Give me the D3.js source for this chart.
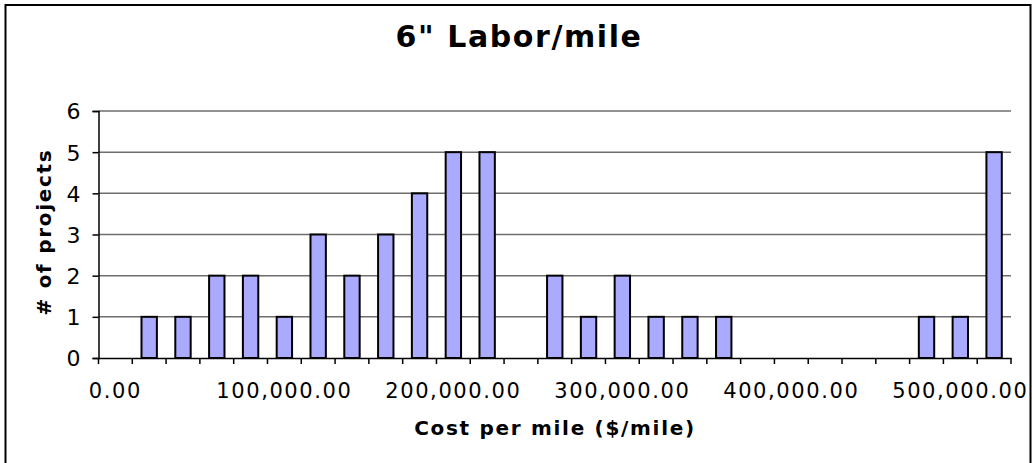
<!DOCTYPE html>
<html>
<head>
<meta charset="utf-8">
<script src="https://cdn.jsdelivr.net/npm/d3@7"></script>
<style>
  body { margin: 0; background: #fff; }
  text { font-family: "DejaVu Sans", Verdana, sans-serif; fill: #000; }
</style>
</head>
<body>
<script>
var width = 1032, height = 463;

// bins (lower edge of each $/mile bin) and counts
var bins = [0, 20000, 40000, 60000, 80000, 100000, 120000, 140000, 160000,
            180000, 200000, 220000, 240000, 260000, 280000, 300000, 320000,
            340000, 360000, 380000, 400000, 420000, 440000, 460000, 480000,
            500000, 520000];
var counts = [0, 1, 1, 2, 2, 1, 3, 2, 3, 4, 5, 5, 0, 2, 1, 2, 1, 1, 1,
              0, 0, 0, 0, 0, 1, 1, 5];
var yTicks = [0, 1, 2, 3, 4, 5, 6];
var labelEvery = 5;

var plot = {left: 98.5, right: 1011, top: 111, bottom: 358};

var svg = d3.select("body")
            .append("svg")
            .attr("width", width)
            .attr("height", height);

// chart border
svg.append("rect")
   .attr("x", 5.5).attr("y", 5)
   .attr("width", 1025).attr("height", 480)
   .attr("fill", "#fff")
   .attr("stroke", "#000")
   .attr("stroke-width", 2);

var xCat = d3.scaleBand()
             .domain(bins)
             .range([plot.left, plot.right]);

var xBar = d3.scaleBand()
             .domain(bins)
             .range([plot.left, plot.right])
             .paddingInner(0.545)
             .paddingOuter(0.2725);

var y = d3.scaleLinear()
          .domain([0, 6])
          .range([plot.bottom, plot.top]);

// gridlines
svg.append("g")
   .selectAll("line")
   .data(yTicks.slice(1))
   .enter()
   .append("line")
   .attr("x1", plot.left).attr("x2", plot.right)
   .attr("y1", d => y(d)).attr("y2", d => y(d))
   .attr("stroke", "#6e6e6e")
   .attr("stroke-width", 1.5);

// y axis
var yAxis = svg.append("g")
               .attr("transform", "translate(" + plot.left + ",0)")
               .call(d3.axisLeft(y)
                       .tickValues(yTicks)
                       .tickFormat(d3.format("d"))
                       .tickSize(6)
                       .tickPadding(12));
yAxis.select(".domain").attr("stroke", "#000").attr("stroke-width", 1.5);
yAxis.selectAll(".tick line").attr("stroke", "#000").attr("stroke-width", 1.5);
yAxis.selectAll("text")
     .attr("font-size", 22)
     .attr("font-family", "DejaVu Sans, sans-serif")
     .attr("fill", "#000")
     .attr("dy", "0.36em");

// bars
svg.append("g")
   .selectAll("rect")
   .data(counts.map((c, i) => ({bin: bins[i], n: c})).filter(d => d.n > 0))
   .enter()
   .append("rect")
   .attr("x", d => xBar(d.bin))
   .attr("y", d => y(d.n))
   .attr("width", xBar.bandwidth())
   .attr("height", d => y(0) - y(d.n))
   .attr("fill", "#aaaaff")
   .attr("stroke", "#000")
   .attr("stroke-width", 2);

// x axis
var fmt = d3.format(",.2f");
var xAxis = svg.append("g")
               .attr("transform", "translate(0," + plot.bottom + ")")
               .call(d3.axisBottom(xCat)
                       .tickSize(0)
                       .tickPadding(25)
                       .tickFormat((d, i) => i % labelEvery == 0 ? fmt(d) : ""));
xAxis.select(".domain").attr("stroke", "#000").attr("stroke-width", 1.5);
xAxis.selectAll("text")
     .attr("font-size", 21)
     .attr("letter-spacing", 1.6)
     .attr("font-family", "DejaVu Sans, sans-serif")
     .attr("fill", "#000");

// category boundary ticks
var edges = bins.map(b => xCat(b)).concat([plot.right]);
xAxis.append("g")
     .selectAll("line")
     .data(edges)
     .enter()
     .append("line")
     .attr("x1", d => d).attr("x2", d => d)
     .attr("y1", 0).attr("y2", 6)
     .attr("stroke", "#000")
     .attr("stroke-width", 1.5);

// titles
svg.append("text")
   .attr("x", 519).attr("y", 47)
   .attr("text-anchor", "middle")
   .attr("font-size", 30)
   .attr("letter-spacing", 1.6)
   .attr("font-weight", "bold")
   .text("6\" Labor/mile");

svg.append("text")
   .attr("x", 555).attr("y", 435)
   .attr("text-anchor", "middle")
   .attr("font-size", 20)
   .attr("letter-spacing", 1.7)
   .attr("font-weight", "bold")
   .text("Cost per mile ($/mile)");

svg.append("text")
   .attr("transform", "translate(51,232)rotate(-90)")
   .attr("text-anchor", "middle")
   .attr("font-size", 20)
   .attr("letter-spacing", 1.7)
   .attr("font-weight", "bold")
   .text("# of projects");
</script>
</body>
</html>
